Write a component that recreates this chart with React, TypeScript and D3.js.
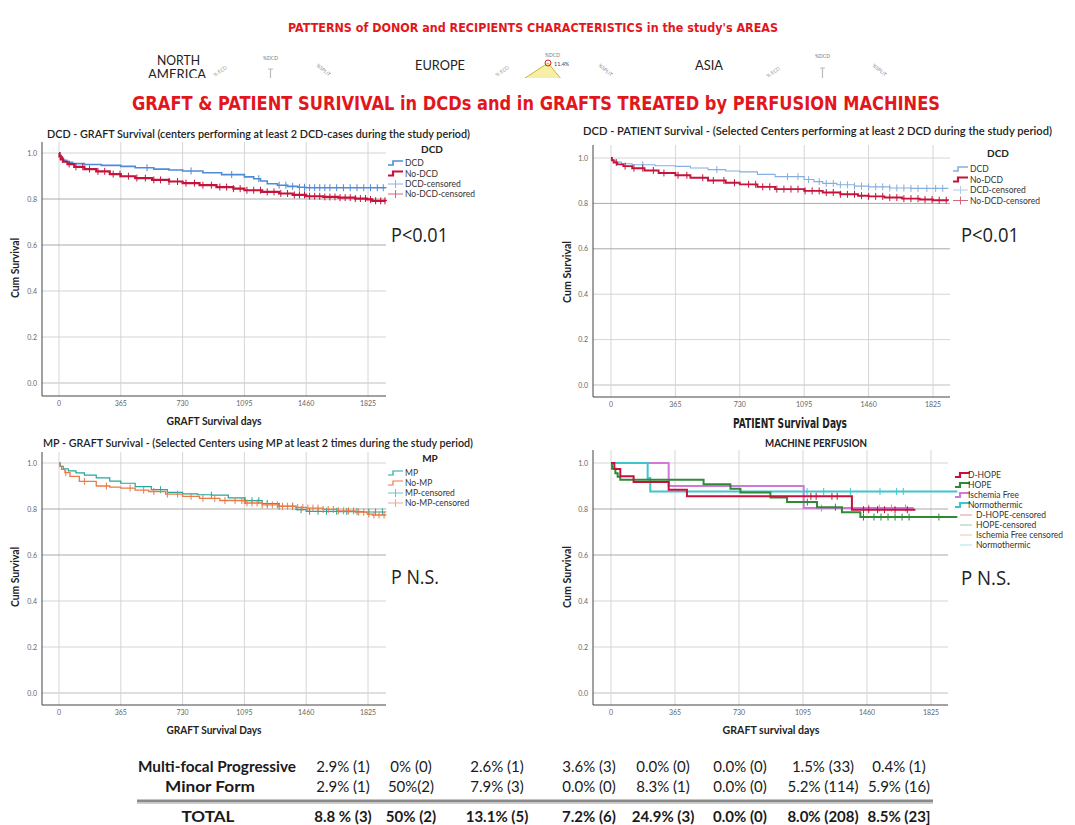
import React from "react"
import * as d3 from "d3"

type Pt = [number, number]

const DAY_TICKS = [0, 365, 730, 1095, 1460, 1825]
const SURV_TICKS = [0, 0.2, 0.4, 0.6, 0.8, 1]

// top left - DCD graft survival
const graftDcd: Pt[] = [[0, 1], [4, 0.99], [12, 0.978], [25, 0.968], [45, 0.96], [80, 0.954], [150, 0.95], [250, 0.946], [365, 0.942], [450, 0.936], [560, 0.93], [650, 0.926], [730, 0.922], [850, 0.914], [960, 0.906], [1095, 0.896], [1150, 0.888], [1190, 0.878], [1230, 0.866], [1290, 0.86], [1350, 0.855], [1410, 0.851], [1460, 0.849], [1930, 0.848]]
const graftDcdCens = [520, 780, 1020, 1180, 1300, 1340, 1380, 1420, 1450, 1480, 1510, 1540, 1570, 1600, 1640, 1680, 1720, 1760, 1800, 1840, 1880, 1915]
const graftNoDcd: Pt[] = [[0, 1], [3, 0.985], [10, 0.972], [25, 0.962], [50, 0.952], [90, 0.94], [150, 0.93], [220, 0.92], [300, 0.908], [365, 0.899], [450, 0.891], [550, 0.883], [650, 0.876], [730, 0.869], [830, 0.86], [930, 0.852], [1030, 0.845], [1095, 0.838], [1200, 0.831], [1300, 0.824], [1380, 0.818], [1460, 0.812], [1560, 0.809], [1650, 0.806], [1750, 0.802], [1820, 0.798], [1850, 0.792], [1930, 0.791]]
const graftNoDcdCens = [20, 60, 100, 140, 180, 230, 270, 320, 360, 410, 460, 510, 560, 600, 650, 700, 750, 800, 850, 900, 950, 990, 1030, 1070, 1110, 1150, 1190, 1230, 1270, 1310, 1350, 1390, 1420, 1450, 1480, 1510, 1540, 1570, 1600, 1630, 1660, 1690, 1720, 1750, 1780, 1810, 1840, 1870, 1900, 1925]

// top right - DCD patient survival
const patDcd: Pt[] = [[0, 1], [8, 0.99], [25, 0.982], [60, 0.975], [120, 0.97], [250, 0.966], [365, 0.963], [450, 0.956], [550, 0.949], [650, 0.943], [730, 0.939], [830, 0.928], [930, 0.918], [1095, 0.905], [1150, 0.896], [1200, 0.888], [1280, 0.882], [1380, 0.876], [1460, 0.873], [1580, 0.868], [1700, 0.866], [1910, 0.865]]
const patDcdCens = [180, 600, 1000, 1060, 1120, 1180, 1220, 1260, 1300, 1340, 1380, 1420, 1460, 1500, 1540, 1580, 1620, 1660, 1700, 1740, 1790, 1840, 1880]
const patNoDcd: Pt[] = [[0, 1], [5, 0.99], [15, 0.98], [35, 0.972], [70, 0.964], [120, 0.955], [190, 0.945], [270, 0.934], [365, 0.924], [450, 0.913], [550, 0.901], [650, 0.891], [730, 0.884], [830, 0.873], [930, 0.863], [1095, 0.855], [1200, 0.848], [1300, 0.84], [1400, 0.834], [1460, 0.831], [1550, 0.826], [1650, 0.821], [1750, 0.817], [1825, 0.814], [1910, 0.812]]
const patNoDcdCens = [30, 80, 130, 180, 240, 300, 380, 430, 520, 580, 640, 700, 780, 820, 860, 900, 940, 980, 1020, 1060, 1100, 1140, 1180, 1220, 1260, 1300, 1340, 1380, 1420, 1460, 1500, 1540, 1580, 1620, 1660, 1700, 1740, 1780, 1820, 1860, 1900]

// bottom left - MP graft survival
const mpYes: Pt[] = [[0, 1], [8, 0.985], [25, 0.975], [55, 0.966], [100, 0.957], [150, 0.947], [220, 0.935], [300, 0.921], [365, 0.912], [450, 0.897], [545, 0.884], [640, 0.872], [730, 0.866], [820, 0.862], [900, 0.86], [1000, 0.848], [1095, 0.836], [1200, 0.824], [1300, 0.812], [1400, 0.797], [1460, 0.79], [1650, 0.789], [1800, 0.787], [1930, 0.786]]
const mpYesCens = [600, 900, 1100, 1140, 1180, 1230, 1300, 1380, 1430, 1480, 1530, 1580, 1640, 1700, 1760, 1830, 1870, 1910]
const mpNo: Pt[] = [[0, 1], [5, 0.985], [15, 0.972], [35, 0.958], [65, 0.942], [120, 0.92], [220, 0.9], [300, 0.895], [365, 0.891], [450, 0.882], [530, 0.876], [630, 0.865], [730, 0.855], [830, 0.846], [950, 0.837], [1095, 0.826], [1200, 0.818], [1300, 0.812], [1400, 0.807], [1460, 0.804], [1560, 0.798], [1650, 0.792], [1750, 0.786], [1820, 0.778], [1850, 0.774], [1930, 0.772]]
const mpNoCens = [40, 150, 280, 420, 500, 560, 640, 700, 780, 850, 920, 980, 1040, 1080, 1110, 1140, 1170, 1200, 1230, 1260, 1290, 1320, 1350, 1380, 1410, 1440, 1470, 1500, 1530, 1560, 1590, 1620, 1650, 1680, 1710, 1740, 1770, 1800, 1830, 1860, 1890, 1920]

// bottom right - machine perfusion types
const dHope: Pt[] = [[0, 1], [19, 0.974], [53, 0.942], [129, 0.917], [329, 0.884], [433, 0.855], [1374, 0.797], [1736, 0.797]]
const dHopeCens = [1140, 1170, 1260, 1290, 1440, 1470, 1520, 1560, 1620, 1690]
const hope: Pt[] = [[0, 1], [6, 0.975], [25, 0.955], [38, 0.94], [53, 0.927], [528, 0.908], [681, 0.888], [738, 0.872], [909, 0.85], [1004, 0.83], [1175, 0.808], [1317, 0.786], [1422, 0.765], [1975, 0.765]]
const hopeCens = [1120, 1280, 1440, 1500, 1540, 1580, 1620, 1660, 1700, 1870]
const ischFree: Pt[] = [[0, 1], [329, 0.9], [1099, 0.804], [1726, 0.804]]
const ischFreeCens = [1200, 1470, 1530, 1600, 1680]
const normo: Pt[] = [[0, 1], [209, 0.935], [224, 0.876], [1975, 0.876]]
const normoCens = [1118, 1213, 1365, 1534, 1629, 1667]

// table
const multiFocal = ["2.9% (1)", "0% (0)", "2.6% (1)", "3.6% (3)", "0.0% (0)", "0.0% (0)", "1.5% (33)", "0.4% (1)"]
const minorForm = ["2.9% (1)", "50%(2)", "7.9% (3)", "0.0% (0)", "8.3% (1)", "0.0% (0)", "5.2% (114)", "5.9% (16)"]
const totalRow = ["8.8 % (3)", "50% (2)", "13.1% (5)", "7.2% (6)", "24.9% (3)", "0.0% (0)", "8.0% (208)", "8.5% (23]"]

const RED = "#e3171b"
const NARROW = "'Liberation Sans Narrow', 'DejaVu Sans Condensed', Arial, sans-serif"
const SANS = "Lato, 'Open Sans', sans-serif"

function valueAt(curve: Pt[], t: number) {
    let v = curve[0][1]
    for (const [d, s] of curve) if (d <= t) v = s
    return v
}

function Txt({ t }: { t: any }) {
    return (
        <text
            x={t.x}
            y={t.y}
            fontSize={t.size}
            fontWeight={t.weight || 400}
            fontFamily={t.family || SANS}
            fill={t.fill || "#222"}
            textAnchor={t.anchor || "start"}
            textLength={t.len}
            lengthAdjust={t.len ? "spacingAndGlyphs" : undefined}
            transform={t.rotate ? `rotate(-90,${t.x},${t.y})` : undefined}
        >
            {t.text}
        </text>
    )
}

function KMPanel({ frame, series, title, xTitle, yTitle, legend, pText }: any) {
    const x = d3.scaleLinear().domain([0, 1825]).range([frame.x0, frame.x1])
    const y = d3.scaleLinear().domain([0, 1]).range([frame.y0, frame.y1])
    const line = d3.line<Pt>().curve(d3.curveStepAfter).x(d => x(d[0])).y(d => y(d[1]))

    return (
        <g>
            {DAY_TICKS.map(d => (
                <line key={"v" + d} x1={x(d)} x2={x(d)} y1={frame.top} y2={frame.bottom} stroke="#d6d6d6" strokeWidth={1} />
            ))}
            {SURV_TICKS.map(s => (
                <line key={"h" + s} x1={frame.left} x2={frame.right} y1={y(s)} y2={y(s)}
                    stroke={s === 0.6 || s === 0.8 ? "#a9a9a9" : "#d4d4d4"} strokeWidth={s === 0 ? 1.5 : 1} />
            ))}
            <line x1={frame.left} x2={frame.left} y1={frame.top} y2={frame.bottom} stroke="#444" />
            <line x1={frame.left} x2={frame.right} y1={frame.bottom} y2={frame.bottom} stroke="#444" />
            {SURV_TICKS.map(s => (
                <text key={"yl" + s} x={frame.left - 5} y={y(s) + 2.5} fontSize={7} fill="#666"
                    fontFamily={SANS} textAnchor="end">{s.toFixed(1)}</text>
            ))}
            {DAY_TICKS.map(d => (
                <text key={"xl" + d} x={x(d)} y={frame.bottom + 10} fontSize={7} fill="#666"
                    fontFamily={SANS} textAnchor="middle">{d}</text>
            ))}

            {series.map((s: any, i: number) => (
                <g key={i}>
                    <path d={line(s.curve) || ""} fill="none" stroke={s.color} strokeWidth={s.width} />
                    {s.cens.map((c: number, j: number) => {
                        const cy = y(valueAt(s.curve, c))
                        return <line key={j} x1={x(c)} x2={x(c)} y1={cy - 3.5} y2={cy + 3.5} stroke={s.color} strokeWidth={1} />
                    })}
                </g>
            ))}

            <Txt t={title} />
            <Txt t={xTitle} />
            <Txt t={{ ...yTitle, rotate: true }} />
            <Txt t={pText} />

            {legend.title && <Txt t={legend.title} />}
            {legend.items.map((it: any, i: number) => {
                const cy = legend.ys[i]
                const sx = legend.sx
                return (
                    <g key={i}>
                        {it.kind === "step" && (
                            <path d={`M${sx},${cy + 2}H${sx + 5}V${cy - 2}H${sx + 15}`} fill="none"
                                stroke={it.color} strokeWidth={it.width || 1.6} />
                        )}
                        {it.kind === "cens" && (
                            <g opacity={0.65}>
                                <line x1={sx} x2={sx + 15} y1={cy} y2={cy} stroke={it.color} strokeWidth={1} />
                                <line x1={sx + 7.5} x2={sx + 7.5} y1={cy - 4} y2={cy + 4} stroke={it.color} strokeWidth={1} />
                            </g>
                        )}
                        {it.kind === "flat" && (
                            <line x1={sx + 5} x2={sx + 17} y1={cy} y2={cy} stroke={it.color} strokeWidth={1} opacity={0.45} />
                        )}
                        <text x={it.kind === "flat" ? legend.tx + 8 : legend.tx} y={cy + 3} fontSize={8.5}
                            fontFamily={SANS} fill="#333">{it.label}</text>
                    </g>
                )
            })}
        </g>
    )
}

const BLUE = "#4f8bd6"
const LIGHT_BLUE = "#86aee0"
const CRIMSON = "#c4133c"
const TEAL = "#26a69a"
const ORANGE = "#ea7a46"
const GREEN = "#2f8a37"
const VIOLET = "#cf7ad8"
const CYAN = "#3fc6cc"

export default function App() {
    const tableCols = [343, 411, 497, 589, 663, 740, 823, 899]

    return (
        <svg width={1075} height={825} style={{ position: "absolute", left: 0, top: 0, background: "#fff" }}>
            <rect width={1075} height={825} fill="#fff" />

            {/* header strip */}
            <Txt t={{ text: "PATTERNS of DONOR and RECIPIENTS CHARACTERISTICS in the study's AREAS", x: 533, y: 32, size: 13, weight: 700, family: NARROW, fill: RED, anchor: "middle", len: 490 }} />
            <clipPath id="hdr"><rect x={0} y={0} width={1075} height={78} /></clipPath>
            <g clipPath="url(#hdr)">
                <Txt t={{ text: "NORTH", x: 157, y: 65, size: 13, family: SANS, fill: "#222", len: 43 }} />
                <Txt t={{ text: "AMERICA", x: 148, y: 79, size: 13, family: SANS, fill: "#222", len: 58 }} />
                <Txt t={{ text: "EUROPE", x: 415, y: 70, size: 13, family: SANS, fill: "#222", len: 50 }} />
                <Txt t={{ text: "ASIA", x: 695, y: 70, size: 13, family: SANS, fill: "#222", len: 28 }} />
                {[[263, 60], [545, 57], [815, 58]].map(([lx, ly], i) => (
                    <text key={"d" + i} x={lx} y={ly} fontSize={5} fill="#777" fontFamily={SANS}>%DCD</text>
                ))}
                {[[215, 77], [497, 77], [768, 78]].map(([lx, ly], i) => (
                    <text key={"e" + i} x={lx} y={ly} fontSize={5} fill="#999" fontFamily={SANS}
                        transform={`rotate(-35,${lx},${ly})`}>% ECD</text>
                ))}
                {[[316, 66], [598, 66], [872, 66]].map(([lx, ly], i) => (
                    <text key={"s" + i} x={lx} y={ly} fontSize={5} fill="#888" fontFamily={SANS}
                        transform={`rotate(40,${lx},${ly})`}>%SPLIT</text>
                ))}
                <path d="M548,63L522,80L562,80Z" fill="#f7efa6" stroke="#c9b440" strokeWidth={1} />
                <circle cx={548} cy={63} r={3} fill="none" stroke="#d22" strokeWidth={1} />
                <text x={554} y={66} fontSize={5.5} fill="#444" fontFamily={SANS}>11.4%</text>
                <path d="M268,69H273M270.5,69V78M820,68H825M822.5,68V78" stroke="#bbb" strokeWidth={1.2} fill="none" />
            </g>

            <Txt t={{ text: "GRAFT & PATIENT SURIVIVAL in DCDs and in GRAFTS TREATED by PERFUSION MACHINES", x: 536, y: 110, size: 20, weight: 700, family: NARROW, fill: RED, anchor: "middle", len: 808 }} />

            {/* top-left: DCD graft */}
            <KMPanel
                frame={{ x0: 59, x1: 368, y1: 153, y0: 383, left: 42, right: 386, top: 142, bottom: 396 }}
                series={[
                    { curve: graftDcd, cens: graftDcdCens, color: BLUE, width: 1.6 },
                    { curve: graftNoDcd, cens: graftNoDcdCens, color: CRIMSON, width: 2.2 },
                ]}
                title={{ text: "DCD  - GRAFT Survival (centers performing at least 2 DCD-cases during the study period)", x: 47, y: 138, size: 11, weight: 600, len: 423 }}
                xTitle={{ text: "GRAFT Survival days", x: 214, y: 425, size: 10.5, weight: 700, anchor: "middle", len: 95 }}
                yTitle={{ text: "Cum Survival", x: 19, y: 268, size: 10.5, weight: 700, anchor: "middle", len: 60 }}
                pText={{ text: "P<0.01", x: 391, y: 242, size: 20, family: "'Open Sans', sans-serif", len: 57 }}
                legend={{
                    title: { text: "DCD", x: 432, y: 153, size: 10, weight: 700, anchor: "middle" },
                    ys: [163, 173.5, 184, 194], sx: 388, tx: 405,
                    items: [
                        { kind: "step", color: BLUE, label: "DCD" },
                        { kind: "step", color: CRIMSON, label: "No-DCD", width: 2.2 },
                        { kind: "cens", color: BLUE, label: "DCD-censored" },
                        { kind: "cens", color: CRIMSON, label: "No-DCD-censored" },
                    ],
                }}
            />

            {/* top-right: DCD patient */}
            <KMPanel
                frame={{ x0: 611, x1: 933, y1: 158, y0: 385, left: 593, right: 950, top: 145, bottom: 397 }}
                series={[
                    { curve: patDcd, cens: patDcdCens, color: LIGHT_BLUE, width: 1.1 },
                    { curve: patNoDcd, cens: patNoDcdCens, color: CRIMSON, width: 1.9 },
                ]}
                title={{ text: "DCD - PATIENT Survival - (Selected Centers performing at least 2 DCD during the study period)", x: 583, y: 135, size: 11, weight: 600, len: 469 }}
                xTitle={{ text: "PATIENT Survival Days", x: 790, y: 428, size: 13.5, weight: 700, family: NARROW, anchor: "middle", len: 114 }}
                yTitle={{ text: "Cum Survival", x: 571, y: 272, size: 10.5, weight: 700, anchor: "middle", len: 62 }}
                pText={{ text: "P<0.01", x: 961, y: 242, size: 20, family: "'Open Sans', sans-serif", len: 58 }}
                legend={{
                    title: { text: "DCD", x: 998, y: 157, size: 10, weight: 700, anchor: "middle" },
                    ys: [169, 179.5, 190, 200.5], sx: 953, tx: 970,
                    items: [
                        { kind: "step", color: LIGHT_BLUE, label: "DCD" },
                        { kind: "step", color: CRIMSON, label: "No-DCD", width: 2.2 },
                        { kind: "cens", color: LIGHT_BLUE, label: "DCD-censored" },
                        { kind: "cens", color: CRIMSON, label: "No-DCD-censored" },
                    ],
                }}
            />

            {/* bottom-left: MP graft */}
            <KMPanel
                frame={{ x0: 59, x1: 368, y1: 463, y0: 693, left: 42, right: 386, top: 452, bottom: 705 }}
                series={[
                    { curve: mpYes, cens: mpYesCens, color: TEAL, width: 1.2 },
                    { curve: mpNo, cens: mpNoCens, color: ORANGE, width: 1.3 },
                ]}
                title={{ text: "MP - GRAFT Survival - (Selected Centers using MP at least 2 times during the study period)", x: 43, y: 447, size: 11, weight: 600, len: 430 }}
                xTitle={{ text: "GRAFT Survival Days", x: 214, y: 734, size: 10.5, weight: 700, anchor: "middle", len: 95 }}
                yTitle={{ text: "Cum Survival", x: 19, y: 577, size: 10.5, weight: 700, anchor: "middle", len: 60 }}
                pText={{ text: "P N.S.", x: 391, y: 584, size: 20, family: "'Open Sans', sans-serif", len: 48 }}
                legend={{
                    title: { text: "MP", x: 430, y: 462, size: 10, weight: 700, anchor: "middle" },
                    ys: [473, 483, 493, 503], sx: 388, tx: 405,
                    items: [
                        { kind: "step", color: TEAL, label: "MP", width: 1.2 },
                        { kind: "step", color: ORANGE, label: "No-MP", width: 1.2 },
                        { kind: "cens", color: TEAL, label: "MP-censored" },
                        { kind: "cens", color: ORANGE, label: "No-MP-censored" },
                    ],
                }}
            />

            {/* bottom-right: machine perfusion */}
            <KMPanel
                frame={{ x0: 611, x1: 931, y1: 463, y0: 693, left: 593, right: 948, top: 450, bottom: 705 }}
                series={[
                    { curve: ischFree, cens: ischFreeCens, color: VIOLET, width: 2 },
                    { curve: normo, cens: normoCens, color: CYAN, width: 2 },
                    { curve: hope, cens: hopeCens, color: GREEN, width: 2 },
                    { curve: dHope, cens: dHopeCens, color: CRIMSON, width: 2 },
                ]}
                title={{ text: "MACHINE PERFUSION", x: 816, y: 447, size: 10.5, weight: 700, anchor: "middle", len: 102 }}
                xTitle={{ text: "GRAFT survival days", x: 771, y: 734, size: 10.5, weight: 700, anchor: "middle", len: 97 }}
                yTitle={{ text: "Cum Survival", x: 571, y: 577, size: 10.5, weight: 700, anchor: "middle", len: 62 }}
                pText={{ text: "P N.S.", x: 961, y: 585, size: 20, family: "'Open Sans', sans-serif", len: 50 }}
                legend={{
                    ys: [475, 485, 495, 505, 515, 525, 535, 545], sx: 955, tx: 968,
                    items: [
                        { kind: "step", color: CRIMSON, label: "D-HOPE", width: 2.2 },
                        { kind: "step", color: GREEN, label: "HOPE", width: 2.2 },
                        { kind: "step", color: VIOLET, label: "Ischemia Free", width: 2.2 },
                        { kind: "step", color: CYAN, label: "Normothermic", width: 2.2 },
                        { kind: "flat", color: CRIMSON, label: "D-HOPE-censored" },
                        { kind: "flat", color: GREEN, label: "HOPE-censored" },
                        { kind: "flat", color: ORANGE, label: "Ischemia Free censored" },
                        { kind: "flat", color: CYAN, label: "Normothermic" },
                    ],
                }}
            />

            {/* table fragment */}
            <g fontFamily={SANS} fill="#1a1a1a">
                <text x={217} y={772} fontSize={15.5} fontWeight={700} textAnchor="middle" textLength={158} lengthAdjust="spacingAndGlyphs">Multi-focal Progressive</text>
                <text x={210} y={792} fontSize={15.5} fontWeight={700} textAnchor="middle" textLength={90} lengthAdjust="spacingAndGlyphs">Minor Form</text>
                <text x={208} y={822} fontSize={15.5} fontWeight={700} textAnchor="middle" textLength={53} lengthAdjust="spacingAndGlyphs">TOTAL</text>
                {multiFocal.map((v, i) => (
                    <text key={"m" + i} x={tableCols[i]} y={772} fontSize={15} textAnchor="middle">{v}</text>
                ))}
                {minorForm.map((v, i) => (
                    <text key={"n" + i} x={tableCols[i]} y={792} fontSize={15} textAnchor="middle">{v}</text>
                ))}
                {totalRow.map((v, i) => (
                    <text key={"t" + i} x={tableCols[i]} y={822} fontSize={15} fontWeight={700} textAnchor="middle">{v}</text>
                ))}
            </g>
            <line x1={137} x2={933} y1={801} y2={801} stroke="#8a8a8a" strokeWidth={3} />
            <line x1={137} x2={933} y1={803.5} y2={803.5} stroke="#cfcfcf" strokeWidth={1} />
        </svg>
    )
}
